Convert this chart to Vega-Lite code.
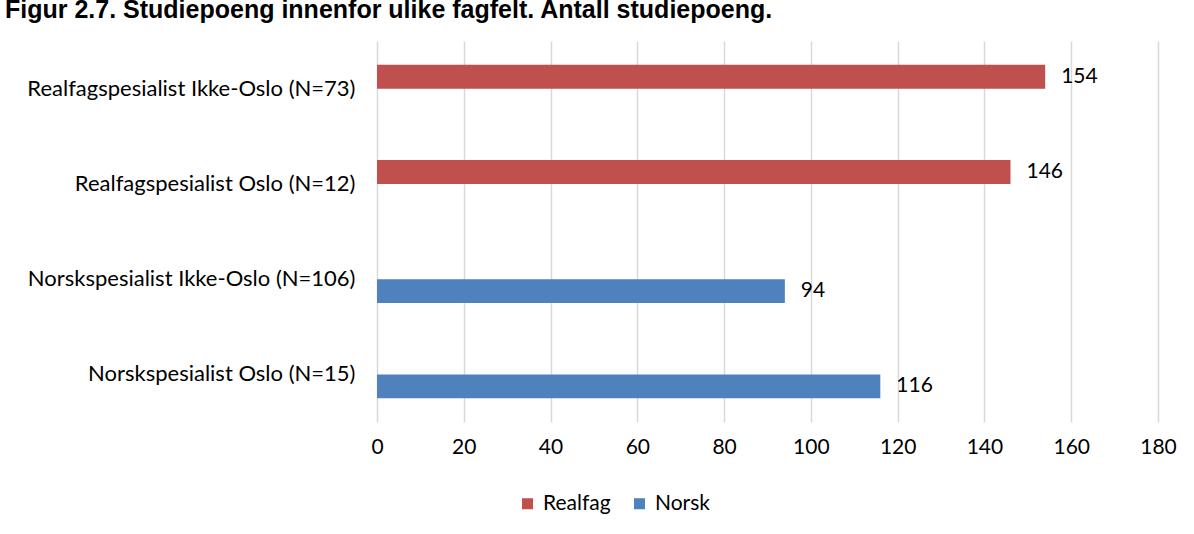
{
  "$schema": "https://vega.github.io/schema/vega-lite/v6.json",
  "autosize": {"type": "none"},
  "padding": {"left": 377, "top": 41, "right": 36, "bottom": 112},
  "width": 781,
  "height": 381,
  "background": "white",
  "title": {
    "text": "Figur 2.7. Studiepoeng innenfor ulike fagfelt. Antall studiepoeng.",
    "anchor": "start",
    "frame": "group",
    "dx": -372,
    "dy": 10,
    "offset": 3,
    "font": "Liberation Sans",
    "fontSize": 25,
    "fontWeight": "bold",
    "color": "black",
    "baseline": "bottom"
  },
  "config": {"view": {"stroke": null}},
  "data": {
    "values": [
      {"kategori": "Realfagspesialist Ikke-Oslo (N=73)", "fag": "Realfag", "studiepoeng": 154},
      {"kategori": "Realfagspesialist Oslo (N=12)", "fag": "Realfag", "studiepoeng": 146},
      {"kategori": "Norskspesialist Ikke-Oslo (N=106)", "fag": "Norsk", "studiepoeng": 94},
      {"kategori": "Norskspesialist Oslo (N=15)", "fag": "Norsk", "studiepoeng": 116}
    ]
  },
  "encoding": {
    "y": {
      "field": "kategori",
      "type": "nominal",
      "sort": null,
      "scale": {"paddingInner": 0.5, "paddingOuter": 0.25},
      "axis": {
        "title": null,
        "domain": false,
        "ticks": false,
        "grid": false,
        "labelPadding": 22,
        "labelLimit": 500,
        "labelFont": "Lato",
        "labelFontSize": 22,
        "labelColor": "black"
      }
    },
    "yOffset": {"field": "fag", "type": "nominal", "scale": {"domain": ["Realfag", "Norsk"]}},
    "x": {
      "field": "studiepoeng",
      "type": "quantitative",
      "scale": {"domain": [0, 180]},
      "axis": {
        "title": null,
        "values": [0, 20, 40, 60, 80, 100, 120, 140, 160, 180],
        "domain": false,
        "ticks": false,
        "grid": true,
        "gridColor": "#D9D9D9",
        "gridWidth": 1.5,
        "labelFlush": false,
        "labelPadding": 14,
        "labelFont": "Lato",
        "labelFontSize": 21,
        "labelColor": "black"
      }
    }
  },
  "layer": [
    {
      "mark": {"type": "bar"},
      "encoding": {
        "color": {
          "field": "fag",
          "type": "nominal",
          "scale": {"domain": ["Realfag", "Norsk"], "range": ["#C0504D", "#4F81BD"]},
          "legend": {
            "title": null,
            "orient": "none",
            "direction": "horizontal",
            "legendX": 140,
            "legendY": 452,
            "symbolType": "square",
            "symbolSize": 121,
            "symbolStrokeWidth": 0,
            "symbolOpacity": 1,
            "labelFont": "Lato",
            "labelFontSize": 21,
            "labelColor": "black",
            "labelOffset": 5,
            "columnPadding": 18
          }
        }
      }
    },
    {
      "mark": {"type": "text", "align": "left", "baseline": "middle", "dx": 16, "font": "Lato", "fontSize": 21, "color": "black"},
      "encoding": {"text": {"field": "studiepoeng", "type": "quantitative"}}
    }
  ]
}
